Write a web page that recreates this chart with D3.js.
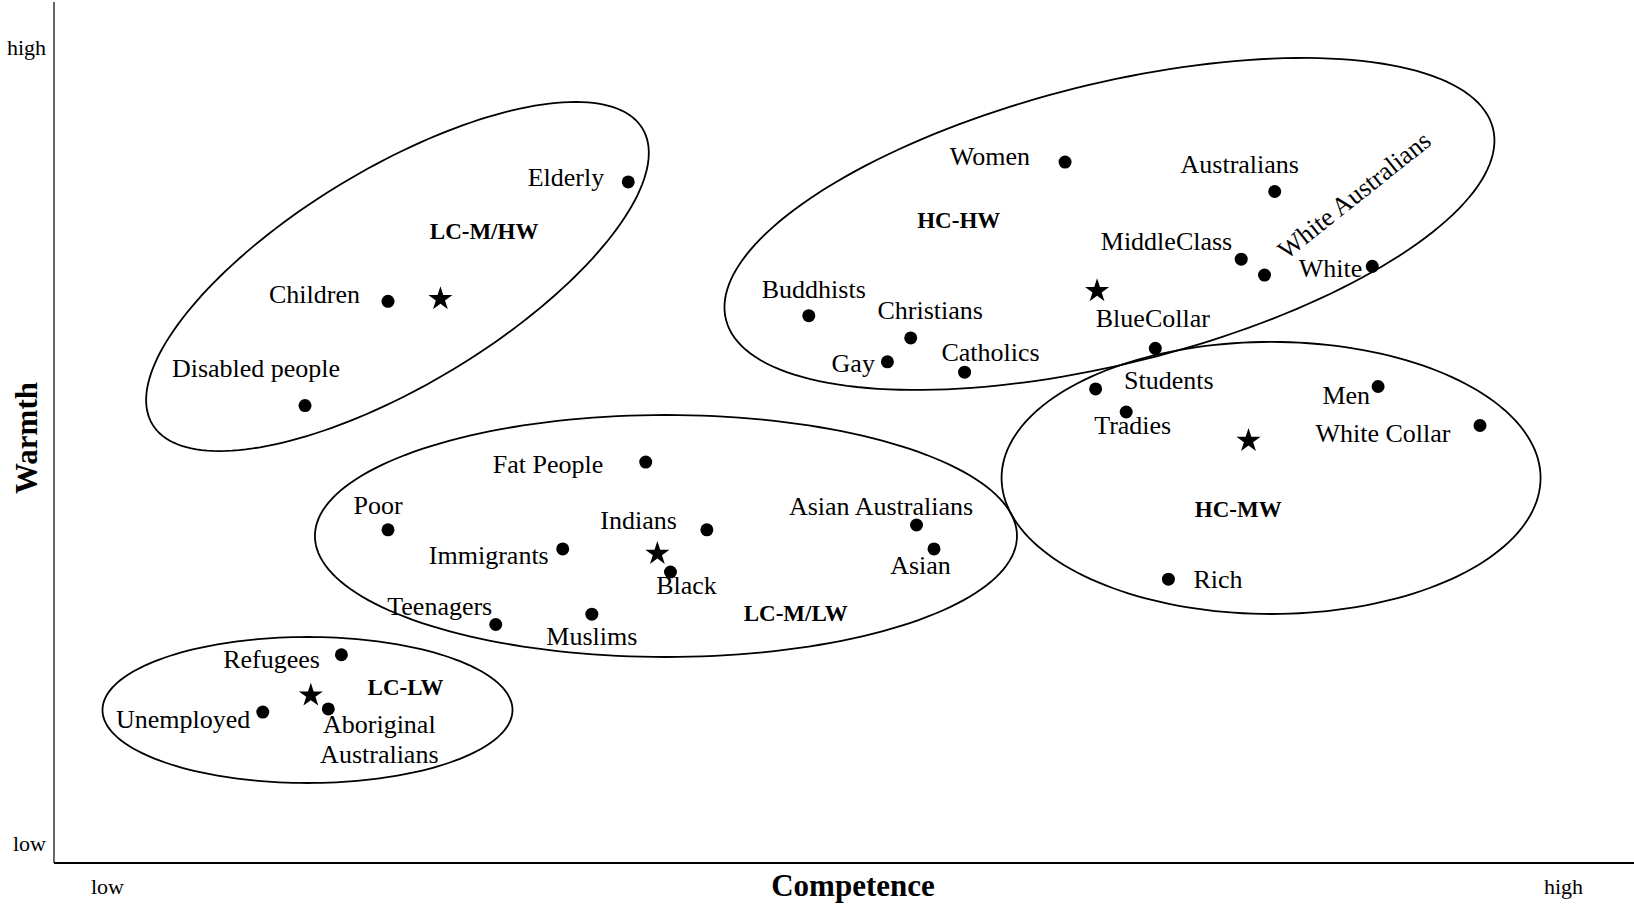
<!DOCTYPE html>
<html><head><meta charset="utf-8">
<script src="https://cdn.jsdelivr.net/npm/d3@7"></script>
<style>
body{margin:0;background:#fff}
svg{display:block}
text{font-family:"Liberation Serif","Times New Roman",serif;fill:#000}
</style>
</head><body>
<svg id="chart" width="1634" height="906"></svg>
<script>
// ---------- DATA ----------
const groups = ["LC-M/HW", "HC-HW", "HC-MW", "LC-M/LW", "LC-LW"];

const names = [
  "Elderly", "Children", "Disabled people",
  "Women", "Australians", "MiddleClass", "White Australians", "White",
  "Buddhists", "Christians", "Gay", "Catholics", "BlueCollar",
  "Students", "Tradies", "Men", "White Collar", "Rich",
  "Fat People", "Poor", "Indians", "Immigrants", "Black",
  "Asian Australians", "Asian", "Teenagers", "Muslims",
  "Refugees", "Unemployed", "Aboriginal Australians"
];
const competence = [
  35.8, 19.3, 13.6,
  65.8, 80.2, 77.9, 79.5, 86.9,
  48.2, 55.2, 53.6, 58.9, 72.0,
  67.9, 70.0, 87.3, 94.3, 72.9,
  37.0, 19.3, 41.2, 31.3, 38.7,
  55.6, 56.8, 26.7, 33.3,
  16.1, 10.7, 15.2
];
const warmth = [
  83.3, 68.3, 55.2,
  85.8, 82.1, 73.6, 71.6, 72.7,
  66.5, 63.7, 60.7, 59.4, 62.4,
  57.3, 54.4, 57.6, 52.7, 33.4,
  48.1, 39.6, 39.6, 37.2, 34.3,
  40.2, 37.2, 27.7, 29.0,
  23.9, 16.7, 17.1
];
const groupOf = [
  0, 0, 0,
  1, 1, 1, 1, 1,
  1, 1, 1, 1, 1,
  2, 2, 2, 2, 2,
  3, 3, 3, 3, 3,
  3, 3, 3, 3,
  4, 4, 4
];

// cluster centroids (stars)
const centroidCompetence = [22.9, 68.0, 78.4, 37.8, 14.0];
const centroidWarmth     = [68.6, 69.6, 50.8, 36.6, 18.8];

// cluster label anchors
const groupLabelCompetence = [25.9, 58.5, 77.7, 47.3, 20.5];
const groupLabelWarmth     = [77.2, 78.5, 42.2, 29.2, 19.9];

// cluster ellipses (data units): centre and two conjugate semi-axis vectors
const ellipseCenterC = [19.95, 68.85, 79.95, 38.39, 13.77];
const ellipseCenterW = [71.42, 78.02, 46.11, 38.82, 16.96];
const ellipseAxisU = [[16.83, 18.58], [26.34, 12.01], [18.51, 0], [24.11, 0], [14.08, 0]];
const ellipseAxisV = [[-3.84, 11.65], [-2.32, 17.05], [0, 17.09], [0, 15.2], [0, 9.17]];

const tickValues = [0, 100];
const tickLabels = ["low", "high"];

// ---------- LAYOUT ----------
const axisLeftX = 54, axisBottomY = 863, axisTopY = 2, axisRightX = 1634;
const labelFont = 26, groupFont = 23, tickFont = 22, titleFont = 31;

// label placement: [anchor, dx, dy, rotation]
const labelPlacement = {
  "Elderly": ["end", -24, -4],
  "Children": ["end", -28, -6.5],
  "Disabled people": ["middle", -49, -36],
  "Women": ["end", -35, -5],
  "Australians": ["middle", -35, -26],
  "MiddleClass": ["end", -9, -17],
  "White Australians": ["start", 17, -21, -38.5],
  "White": ["end", -10, 3],
  "Buddhists": ["middle", 5, -25],
  "Christians": ["middle", 19.5, -27],
  "Gay": ["end", -12.5, 2],
  "Catholics": ["middle", 26, -19],
  "BlueCollar": ["middle", -2.5, -29],
  "Students": ["start", 28.5, -7.5],
  "Tradies": ["middle", 6.5, 14.5],
  "Men": ["end", -8, 10],
  "White Collar": ["end", -29.5, 8.5],
  "Rich": ["start", 25, 1.5],
  "Fat People": ["end", -42.5, 3.5],
  "Poor": ["middle", -10, -24],
  "Indians": ["end", -30, -8.5],
  "Immigrants": ["end", -14, 7],
  "Black": ["middle", 16, 14.5],
  "Asian Australians": ["middle", -35.5, -18],
  "Asian": ["middle", -13.5, 17],
  "Teenagers": ["end", -3.5, -17],
  "Muslims": ["middle", 0, 23.5],
  "Refugees": ["end", -21.5, 5],
  "Unemployed": ["end", -12.5, 8.5],
  "Aboriginal Australians": ["middle", 51, 16.5]
};
const multiLine = {"Aboriginal Australians": ["Aboriginal", "Australians"]};

const svg = d3.select("#chart");
const x = d3.scaleLinear().domain([0, 100]).range([107, 1563]);
const y = d3.scaleLinear().domain([0, 100]).range([845, 49]);

// ---------- AXES ----------
svg.append("line").attr("x1", axisLeftX).attr("x2", axisLeftX)
  .attr("y1", axisTopY).attr("y2", axisBottomY)
  .attr("stroke", "#000").attr("stroke-width", 1.2);
svg.append("line").attr("x1", axisLeftX).attr("x2", axisRightX)
  .attr("y1", axisBottomY).attr("y2", axisBottomY)
  .attr("stroke", "#000").attr("stroke-width", 2);

const fmt = d => tickLabels[tickValues.indexOf(d)];
const gx = svg.append("g").attr("transform", `translate(0,${axisBottomY})`)
  .call(d3.axisBottom(x).tickValues(tickValues).tickFormat(fmt).tickSize(0).tickPadding(15));
const gy = svg.append("g").attr("transform", `translate(${axisLeftX},0)`)
  .call(d3.axisLeft(y).tickValues(tickValues).tickFormat(fmt).tickSize(0).tickPadding(8));
[gx, gy].forEach(g => {
  g.select(".domain").remove();
  g.selectAll("text").attr("font-size", tickFont)
    .attr("font-family", '"Liberation Serif","Times New Roman",serif').attr("fill", "#000");
});
gy.selectAll("text").attr("dy", "0.27em");

svg.append("text").attr("x", 853).attr("y", 886).attr("dy", "0.33em")
  .attr("text-anchor", "middle").attr("font-size", titleFont).attr("font-weight", "bold")
  .text("Competence");
svg.append("text").attr("transform", "translate(26,438) rotate(-90)").attr("dy", "0.35em")
  .attr("text-anchor", "middle").attr("font-size", titleFont).attr("font-weight", "bold")
  .text("Warmth");

// ---------- ELLIPSES ----------
const ts = d3.range(0, 360, 2).map(a => a * Math.PI / 180);
const line = d3.line().curve(d3.curveLinearClosed);
groups.forEach((g, i) => {
  const pts = ts.map(t => [
    x(ellipseCenterC[i] + ellipseAxisU[i][0] * Math.cos(t) + ellipseAxisV[i][0] * Math.sin(t)),
    y(ellipseCenterW[i] + ellipseAxisU[i][1] * Math.cos(t) + ellipseAxisV[i][1] * Math.sin(t))
  ]);
  svg.append("path").attr("d", line(pts)).attr("fill", "none")
    .attr("stroke", "#000").attr("stroke-width", 1.8);
});

// ---------- GROUP LABELS ----------
svg.selectAll("text.group").data(groups).join("text").attr("class", "group")
  .attr("x", (d, i) => x(groupLabelCompetence[i]))
  .attr("y", (d, i) => y(groupLabelWarmth[i]))
  .attr("dy", "0.35em").attr("text-anchor", "middle")
  .attr("font-size", groupFont).attr("font-weight", "bold").text(d => d);

// ---------- POINTS ----------
const idx = d3.range(names.length);
svg.selectAll("circle.pt").data(idx).join("circle").attr("class", "pt")
  .attr("cx", i => x(competence[i])).attr("cy", i => y(warmth[i]))
  .attr("r", 6.5).attr("fill", "#000");

// ---------- STARS ----------
svg.selectAll("path.star").data(groups).join("path").attr("class", "star")
  .attr("transform", (d, i) => `translate(${x(centroidCompetence[i])},${y(centroidWarmth[i])})`)
  .attr("d", d3.symbol(d3.symbolStar, 180)).attr("fill", "#000");

// ---------- POINT LABELS ----------
idx.forEach(i => {
  const n = names[i];
  const p = labelPlacement[n];
  const px = x(competence[i]) + p[1], py = y(warmth[i]) + p[2];
  const t = svg.append("text")
    .attr("transform", `translate(${px},${py})` + (p[3] ? ` rotate(${p[3]})` : ""))
    .attr("text-anchor", p[0]).attr("font-size", labelFont);
  const lines = multiLine[n] || [n];
  lines.forEach((l, k) => {
    t.append("tspan").attr("x", 0).attr("dy", k === 0 ? "0.3em" : "1.15em").text(l);
  });
});
</script>
</body></html>
